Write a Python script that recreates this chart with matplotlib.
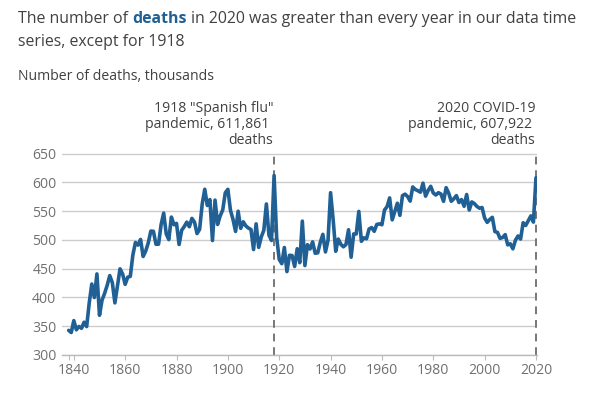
import numpy as np
import matplotlib
matplotlib.use("Agg")
import matplotlib.pyplot as plt
import matplotlib.transforms as mtransforms


# ============================================================
# Data: annual deaths, England and Wales, thousands
# ============================================================

YEARS = list(range(1838, 2021))

DEATHS = [
    342.8, 339.0,
    359.7, 343.8, 349.5, 346.4, 356.9, 349.4, 390.3, 423.3, 399.8, 440.8,
    369.0, 395.4, 407.1, 421.1, 437.9, 425.7, 390.5, 419.8, 449.7, 440.8,
    422.7, 435.1, 436.6, 473.8, 495.5, 490.9, 500.7, 471.1, 480.6, 494.8,
    515.3, 514.9, 492.3, 492.5, 526.6, 546.5, 510.3, 500.5, 539.6, 526.3,
    528.6, 491.9, 516.7, 523.0, 530.8, 522.8, 537.3, 530.8, 511.0, 518.4,
    562.2, 587.9, 559.7, 570.0, 498.8, 569.0, 526.7, 541.5, 552.1, 581.8,
    587.8, 551.6, 535.5, 514.6, 549.8, 520.0, 531.3, 524.2, 520.5, 518.0,
    483.2, 527.8, 486.9, 505.0, 516.7, 562.3, 508.2, 498.9, 611.9, 504.2,
    466.1, 458.6, 486.8, 444.8, 473.2, 472.8, 453.8, 484.6, 460.4, 532.5,
    455.4, 491.6, 484.1, 496.5, 476.8, 477.4, 495.8, 509.6, 479.0, 499.0,
    581.9, 535.2, 480.1, 501.4, 492.2, 488.0, 491.9, 517.6, 469.9, 510.3,
    510.3, 549.4, 497.5, 503.5, 501.9, 518.9, 521.3, 514.9, 526.8, 527.7,
    526.3, 551.8, 557.6, 572.9, 534.7, 549.4, 563.6, 542.5, 576.8, 579.4,
    575.2, 567.3, 591.9, 587.5, 585.3, 582.8, 598.5, 575.9, 585.9, 593.0,
    581.4, 577.9, 581.9, 579.6, 566.9, 590.7, 581.2, 567.0, 571.4, 576.9,
    564.8, 570.0, 558.3, 578.8, 551.8, 565.9, 563.0, 558.1, 555.0, 556.1,
    537.9, 530.4, 535.4, 539.2, 514.3, 513.0, 502.6, 504.1, 509.1, 491.3,
    493.2, 484.4, 499.3, 506.8, 501.4, 529.7, 525.0, 533.3, 541.6, 530.8,
    607.9,
]

Y_TICKS = [300, 350, 400, 450, 500, 550, 600, 650]
X_TICKS = [1840, 1860, 1880, 1900, 1920, 1940, 1960, 1980, 2000, 2020]

MARKER_YEARS = [1918, 2020]
MARKER_LABELS = [
    ['1918 "Spanish flu"', "pandemic, 611,861 ", "deaths"],
    ["2020 COVID-19", "pandemic, 607,922 ", "deaths"],
]

TITLE_PARTS = ["The number of", "deaths", "in 2020 was greater than every year in our data time"]
TITLE_LINE2 = "series, except for 1918"
SUBTITLE = "Number of deaths, thousands"


# ============================================================
# Style
# ============================================================

W, H = 589, 396
BLUE = "#206095"
DARK = "#414042"
GREY = "#707071"
GRID = "#cccccc"
SMALL = 10.1

plt.rcParams["font.family"] = ["Open Sans", "DejaVu Sans"]

fig = plt.figure(figsize=(W / 100, H / 100), dpi=100)
fig.patch.set_facecolor("white")

ax = fig.add_axes([62 / W, 41 / H, (536.5 - 62) / W, (355 - 153.5) / H])

ax.plot(YEARS, DEATHS, color=BLUE, linewidth=2.6, solid_joinstyle="round",
        solid_capstyle="round", zorder=3)

ax.set_xlim(1835.4, 2020.2)
ax.set_ylim(300, 650)

ax.set_yticks(Y_TICKS)
ax.set_yticklabels([str(v) for v in Y_TICKS], fontsize=SMALL, color=GREY)
ax.set_xticks([1838] + X_TICKS)
ax.set_xticklabels([""] + [str(v) for v in X_TICKS], fontsize=SMALL, color=GREY)

ax.tick_params(axis="y", length=0, pad=4)
ax.tick_params(axis="x", length=3.5, color="#bbbbbb", pad=2)

ax.grid(axis="y", color=GRID, linewidth=1.0)
ax.set_axisbelow(True)

for side in ["top", "right", "left"]:
    ax.spines[side].set_visible(False)
ax.spines["bottom"].set_color("#bbbbbb")
ax.spines["bottom"].set_linewidth(1.0)

# dashed markers for pandemic years
for yr in MARKER_YEARS:
    ax.plot([yr, yr], [300, 650], color="#777777", linewidth=1.4,
            linestyle=(0, (4, 3)), clip_on=False, zorder=2)

# annotation text, right-aligned on the marker lines
blend = mtransforms.blended_transform_factory(ax.transData, fig.transFigure)
line_y = [108, 124, 140]
for yr, lines in zip(MARKER_YEARS, MARKER_LABELS):
    for txt, py in zip(lines, line_y):
        ax.text(yr - 0.3, 1 - py / H, txt, transform=blend, ha="right",
                va="center", fontsize=SMALL, color=DARK)


# ============================================================
# Title, with the word "deaths" in bold blue
# ============================================================

renderer = fig.canvas.get_renderer()
title_y = 1 - 19 / H
title_size = 11.45

sp_a = fig.text(0, 0, "a a", fontsize=title_size)
sp_b = fig.text(0, 0, "aa", fontsize=title_size)
space_w = sp_a.get_window_extent(renderer).width - sp_b.get_window_extent(renderer).width
sp_a.remove()
sp_b.remove()

x_px = 18
styles = [(DARK, "normal"), (BLUE, "bold"), (DARK, "normal")]
for part, (col, weight) in zip(TITLE_PARTS, styles):
    t = fig.text(x_px / W, title_y, part, fontsize=title_size, color=col,
                 fontweight=weight, va="center", ha="left")
    bb = t.get_window_extent(renderer)
    x_px = bb.x1 + space_w

fig.text(18 / W, 1 - 42 / H, TITLE_LINE2, fontsize=title_size, color=DARK,
         va="center", ha="left")

fig.text(18 / W, 1 - 77 / H, SUBTITLE, fontsize=SMALL, color=DARK,
         va="center", ha="left")

fig.savefig("out.png", dpi=100, facecolor="white")
plt.close(fig)
